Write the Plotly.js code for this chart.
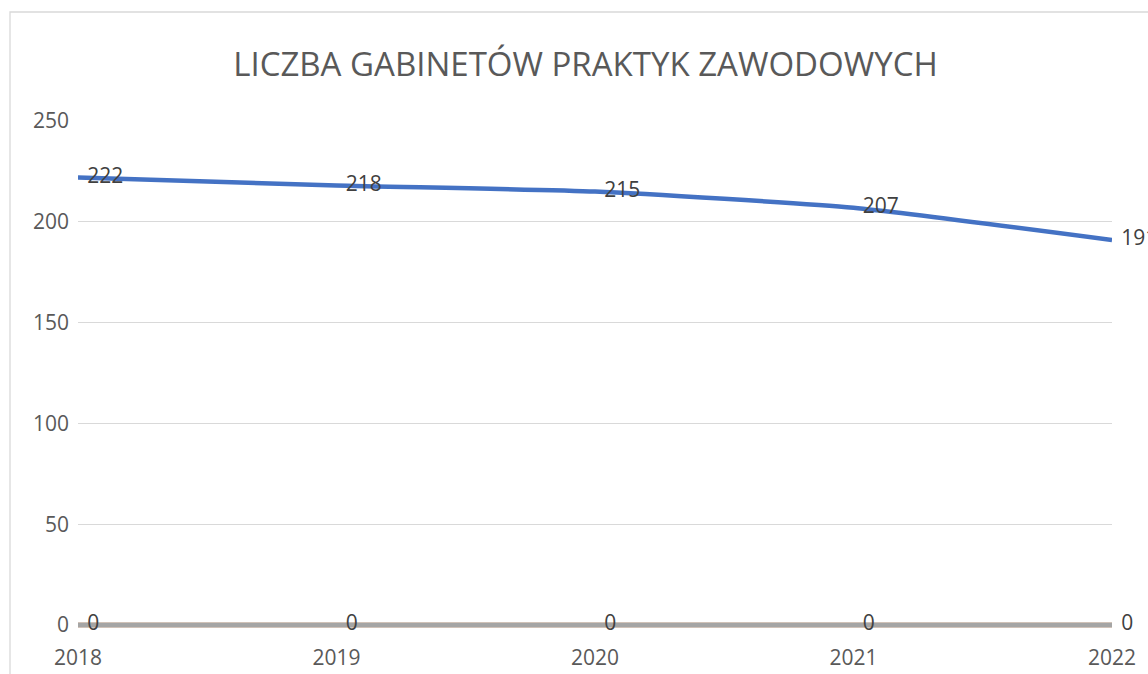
<!DOCTYPE html>
<html>
<head>
<meta charset="utf-8">
<script src="https://cdn.plot.ly/plotly-3.0.1.min.js"></script>
<style>
html,body{margin:0;padding:0;background:#fff;overflow:hidden;}
#chart{width:1148px;height:674px;}
</style>
</head>
<body>
<div id="chart"></div>
<script>
var years = ['2018', '2019', '2020', '2021', '2022'];
var gabinety = [222, 218, 215, 207, 191];
var seria2 = [0, 0, 0, 0, 0];
var seria3 = [0, 0, 0, 0, 0];
var yTicks = [0, 50, 100, 150, 200, 250];

var labelFont = {family: 'Open Sans, sans-serif', size: 21, color: '#404040'};
var hiddenMarker = {size: 13, opacity: 0};

var traces = [
  {
    x: years, y: seria2, type: 'scatter', mode: 'lines',
    line: {color: '#ED7D31', width: 4.5},
    cliponaxis: false, hoverinfo: 'skip', showlegend: false
  },
  {
    x: years, y: seria3, type: 'scatter', mode: 'lines+markers+text',
    line: {color: '#A5A5A5', width: 5},
    marker: hiddenMarker,
    text: seria3.map(String), textposition: 'middle right',
    textfont: labelFont,
    cliponaxis: false, showlegend: false
  },
  {
    x: years, y: gabinety, type: 'scatter', mode: 'lines+markers+text',
    line: {color: '#4472C4', width: 4.5, shape: 'spline', smoothing: 0.5},
    marker: hiddenMarker,
    text: gabinety.map(String), textposition: 'middle right',
    textfont: labelFont,
    cliponaxis: false, showlegend: false
  }
];

// plot area: 0 at y=625, 250 at y=121 -> 2.016 px per unit
var yMin = -3;
var plotH = 504 * (250 - yMin) / 250;
var bottomM = 674 - 625 - (plotH - 504);

var layout = {
  width: 1148, height: 674,
  margin: {l: 78, r: 36, t: 121, b: bottomM, pad: 0},
  paper_bgcolor: 'rgba(0,0,0,0)',
  plot_bgcolor: 'rgba(0,0,0,0)',
  showlegend: false,
  title: {
    text: 'LICZBA GABINETÓW PRAKTYK ZAWODOWYCH',
    font: {family: 'Open Sans, sans-serif', size: 33, color: '#595959'},
    x: 0.51, xanchor: 'center', y: 0.905, yanchor: 'middle'
  },
  xaxis: {
    type: 'category', range: [0, 4],
    showgrid: false, zeroline: false, showline: false,
    ticks: '', ticklabelstandoff: 12,
    tickfont: {family: 'Open Sans, sans-serif', size: 21, color: '#595959'}
  },
  yaxis: {
    range: [yMin, 250], tickvals: yTicks, ticktext: yTicks.map(String),
    showgrid: true, gridcolor: '#D9D9D9', gridwidth: 1.3,
    zeroline: false, showline: false, ticks: '',
    ticklabelstandoff: 8,
    tickfont: {family: 'Open Sans, sans-serif', size: 21, color: '#595959'}
  },
  shapes: [{
    type: 'rect', xref: 'paper', yref: 'paper',
    x0: (10 - 78) / 1034, x1: 1.2, y0: -0.3, y1: (674 - bottomM - 12) / plotH,
    line: {color: '#D9D9D9', width: 1.3}, fillcolor: 'rgba(0,0,0,0)', layer: 'below'
  }]
};

Plotly.newPlot('chart', traces, layout, {displayModeBar: false, staticPlot: true});
</script>
</body>
</html>
